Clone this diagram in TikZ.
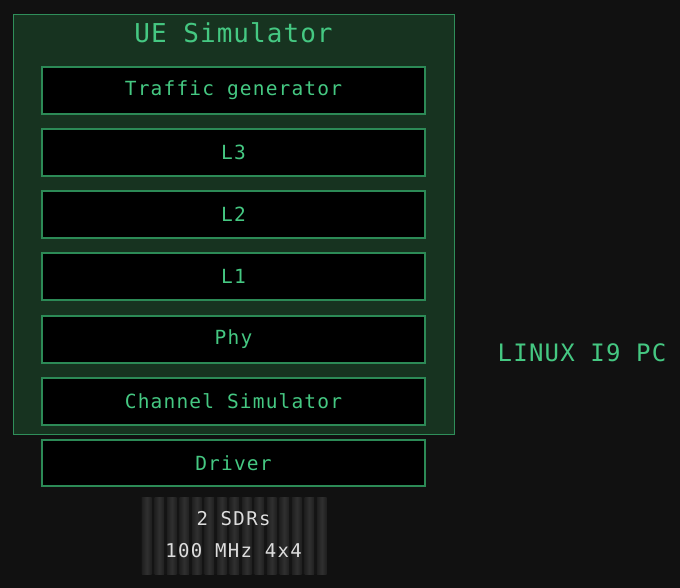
\documentclass[tikz,border=0pt]{standalone}
\usepackage{fontspec}
\setmonofont{DejaVu Sans Mono}
\definecolor{bg}{HTML}{111111}
\definecolor{outerfill}{HTML}{173320}
\definecolor{outerline}{HTML}{2F8F5A}
\definecolor{innerline}{HTML}{2C8A56}
\definecolor{txtgreen}{HTML}{45C882}
\definecolor{sdrtxt}{HTML}{DDDDDD}
\definecolor{stripeA}{HTML}{1F1F1F}
\definecolor{stripeB}{HTML}{303030}
\tikzset{
  layerbox/.style={draw=innerline, line width=1.2pt, fill=black, minimum width=383pt, minimum height=47pt, inner sep=0pt, text=txtgreen,
    font={\ttfamily\fontsize{19.5}{21}\selectfont\addfontfeature{LetterSpace=6}}},
  stripe/.style={left color=stripeA, right color=stripeA, middle color=stripeB}
}
\begin{document}
\begin{tikzpicture}[x=1pt,y=-1pt]
\fill[bg] (0,0) rectangle (680,588);
\useasboundingbox (0,0) rectangle (680,588);
\node[draw=outerline, line width=1.2pt, fill=outerfill, minimum width=441pt, minimum height=420pt, inner sep=0pt, anchor=north west] (sim) at (13,14) {};
\node[text=txtgreen, font={\ttfamily\fontsize{26}{28}\selectfont\addfontfeature{LetterSpace=4}}] (title) at (233.5,33) {UE Simulator};
\node[layerbox] (traffic) at (233.5,90.5) {Traffic generator};
\node[layerbox] (l3) at (233.5,152.5) {L3};
\node[layerbox] (l2) at (233.5,214.5) {L2};
\node[layerbox] (l1) at (233.5,276.5) {L1};
\node[layerbox] (phy) at (233.5,339.5) {Phy};
\node[layerbox] (chan) at (233.5,401.5) {Channel Simulator};
\node[layerbox, minimum height=46pt] (driver) at (233.5,463) {Driver};
\fill[black!92] (141,497) rectangle (326,574);
\foreach \i in {0,...,14} {
  \shade[stripe] ({142+\i*12.5},497) rectangle ({151.5+\i*12.5},574);
}
\node[text=sdrtxt, align=center, font={\ttfamily\fontsize{19}{32}\selectfont\addfontfeature{LetterSpace=7}}] (sdr) at (233.5,535) {2 SDRs\\100 MHz 4x4};
\node[text=txtgreen, font={\ttfamily\fontsize{24}{26}\selectfont\addfontfeature{LetterSpace=5}}] (pc) at (582,353) {LINUX I9 PC};
\end{tikzpicture}
\end{document}
